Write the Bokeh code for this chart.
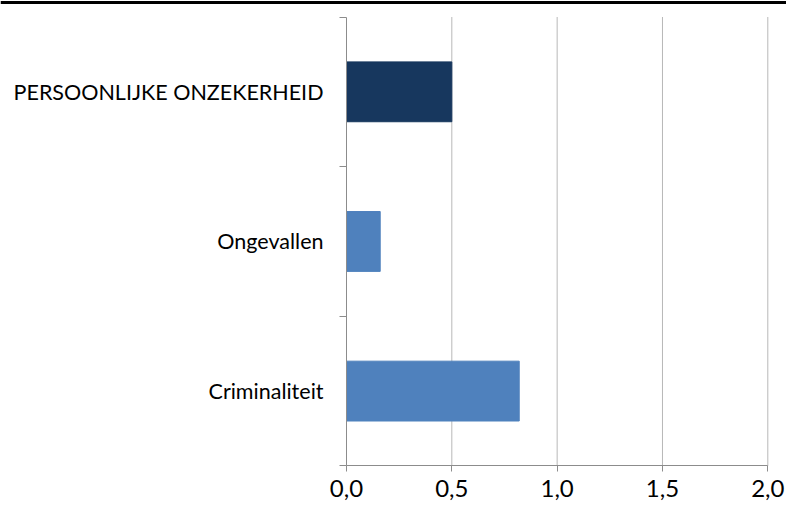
from bokeh.plotting import figure
from bokeh.models import Range1d, LinearAxis, FixedTicker, Span
from bokeh.embed import file_html
from bokeh.resources import INLINE

# Data (bottom to top)
categories = ["Criminaliteit", "Ongevallen", "PERSOONLIJKE ONZEKERHEID"]
values = [0.82, 0.16, 0.50]
bar_colors = ["#4F81BD", "#4F81BD", "#17375E"]
x_ticks = [0.0, 0.5, 1.0, 1.5, 2.0]
x_tick_labels = ["0,0", "0,5", "1,0", "1,5", "2,0"]

FONT = "Lato"
W, H = 786, 508

# pixel geometry (frame spans the whole figure)
x0_px = 346.0          # pixel position of x = 0
x2_px = 767.3          # pixel position of x = 2.0
ytop_px = 16.5         # pixel position of top category boundary
ybot_px = 465.4        # pixel position of x axis
n = len(categories)

px_per_x = (x2_px - x0_px) / x_ticks[-1]
px_per_y = (ybot_px - ytop_px) / n

p = figure(width=W, height=H, output_backend="svg", toolbar_location=None,
           x_axis_type=None, y_axis_type=None,
           x_range=Range1d(-x0_px / px_per_x, x_ticks[-1] + (W - x2_px) / px_per_x),
           y_range=Range1d(-(H - ybot_px) / px_per_y, n + ytop_px / px_per_y),
           min_border=0, min_border_left=0, min_border_right=0,
           min_border_top=0, min_border_bottom=0)
p.outline_line_color = None
p.xgrid.visible = False
p.ygrid.visible = False
p.background_fill_color = "white"
p.border_fill_color = "white"

ypos = [i + 0.5 for i in range(n)]

# vertical gridlines
gx = x_ticks[1:]
p.segment(x0=gx, y0=[0] * len(gx), x1=gx, y1=[n] * len(gx),
          line_color="#b8b8b8", line_width=1)

# bars
p.hbar(y=ypos, left=0, right=values, height=0.4, fill_color=bar_colors,
       line_color=bar_colors)

# x axis
xaxis = LinearAxis(fixed_location=0, bounds=(0, x_ticks[-1]),
                   ticker=FixedTicker(ticks=x_ticks, minor_ticks=[]))
xaxis.major_label_overrides = {t: l for t, l in zip(x_ticks, x_tick_labels)}
xaxis.axis_line_color = "#8c8c8c"
xaxis.major_tick_line_color = "#8c8c8c"
xaxis.major_tick_out = 6
xaxis.major_tick_in = 0
xaxis.minor_tick_line_color = None
xaxis.major_label_text_font = FONT
xaxis.major_label_text_font_size = "24px"
xaxis.major_label_text_color = "black"
xaxis.major_label_standoff = 8
p.add_layout(xaxis, "below")

# y axis: ticks at category boundaries, labels at centres
yaxis = LinearAxis(fixed_location=0, bounds=(0, n),
                   ticker=FixedTicker(ticks=ypos, minor_ticks=list(range(n + 1))))
yaxis.major_label_overrides = {y: c for y, c in zip(ypos, categories)}
yaxis.axis_line_color = "#8c8c8c"
yaxis.major_tick_line_color = None
yaxis.minor_tick_line_color = "#8c8c8c"
yaxis.minor_tick_out = 7
yaxis.minor_tick_in = 0
yaxis.major_label_text_font = FONT
yaxis.major_label_text_font_size = "21.5px"
yaxis.major_label_text_color = "black"
yaxis.major_label_standoff = 16
p.add_layout(yaxis, "left")

# top rule
p.add_layout(Span(location=n + (ytop_px - 2.0) / px_per_y, dimension="width",
                  line_color="black", line_width=3))

open("out.html", "w").write(file_html(p, INLINE))
